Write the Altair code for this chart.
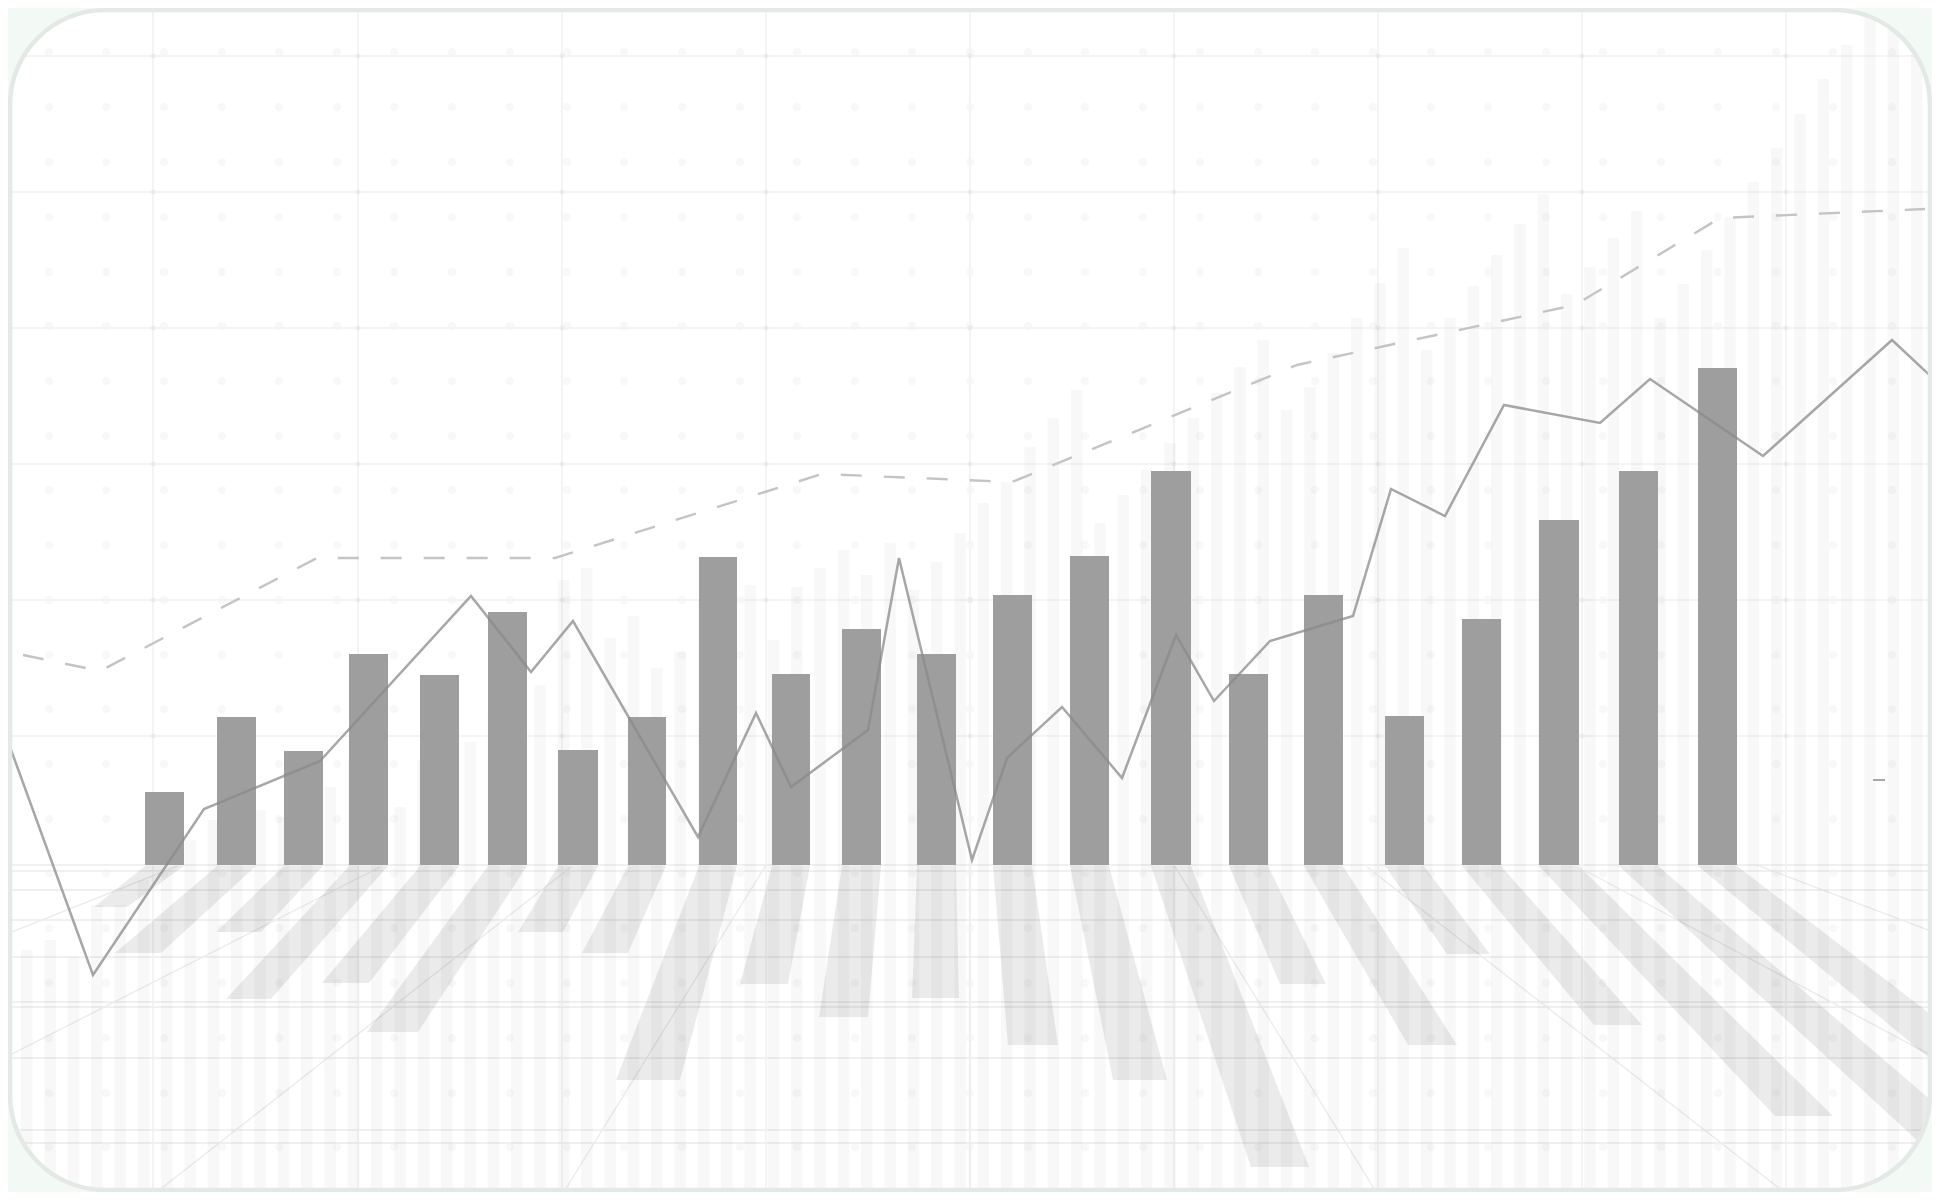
import altair as alt
import pandas as pd

# Bars
bar_left = [145, 217, 284, 349, 420, 488, 558, 628, 699, 772, 842, 917, 993, 1070, 1151, 1229, 1304, 1385, 1462, 1539, 1619, 1698]
bar_right = [184, 256, 323, 388, 459, 527, 598, 666, 737, 810, 881, 956, 1032, 1109, 1191, 1268, 1343, 1424, 1501, 1579, 1658, 1737]
bar_top = [792, 717, 751, 654, 675, 612, 750, 717, 557, 674, 629, 654, 595, 556, 471, 674, 595, 716, 619, 520, 471, 368]
BASE = 865

# Reflections beneath the bars
shadow_left = [94, 115, 216, 226, 322, 367, 518, 582, 616, 740, 819, 912, 1008, 1113, 1251, 1280, 1408, 1447, 1594, 1775, 1946, 2160]
shadow_right = [127, 161, 261, 271, 369, 418, 563, 628, 680, 788, 868, 959, 1058, 1167, 1309, 1326, 1457, 1490, 1642, 1833, 2009, 2239]
shadow_end = [907, 953, 932, 999, 983, 1032, 932, 953, 1080, 984, 1017, 998, 1045, 1080, 1167, 984, 1045, 954, 1025, 1116, 1167, 1250]

# Pale background bars
pale_x = [26.8, 50.1, 73.5, 96.8, 120.1, 143.5, 166.8, 190.1, 213.5, 236.8, 260.1, 283.5, 306.8, 330.1,
          353.5, 376.8, 400.1, 423.5, 446.8, 470.1, 493.5, 516.8, 540.1, 563.5, 586.8, 610.1, 633.5, 656.8,
          680.1, 703.5, 726.8, 750.1, 773.5, 796.8, 820.1, 843.5, 866.8, 890.1, 913.5, 936.8, 960.1, 983.3,
          1006.7, 1030, 1053.3, 1076.7, 1100, 1123.3, 1146.7, 1170, 1193.3, 1216.7, 1240, 1263.3, 1286.7,
          1310, 1333.3, 1356.7, 1380, 1403.3, 1426.7, 1450, 1473.3, 1496.7, 1520, 1543.3, 1566.7, 1590,
          1613.3, 1636.7, 1660, 1683.3, 1706.7, 1730, 1753.3, 1776.7, 1800, 1823.3, 1846.7, 1870, 1893.3, 1916.7]
pale_top = [950, 940, 957, 905, 905, 880, 870, 840, 820, 800, 810, 817, 790, 787,
            760, 780, 807, 760, 742, 742, 710, 700, 685, 580, 568, 638, 616, 668,
            652, 600, 620, 585, 640, 587, 568, 550, 575, 543, 590, 562, 533, 503,
            482, 447, 418, 390, 523, 495, 470, 443, 418, 393, 367, 340, 410,
            387, 353, 318, 283, 248, 350, 318, 286, 255, 224, 194, 294, 267,
            238, 211, 318, 284, 250, 217, 182, 148, 114, 79, 45, 12, 23, 55]
PALE_BOTTOM = 1196

# Solid line
line_x = [6, 93, 204, 320, 471, 531, 573, 698, 756, 791, 868, 899, 972, 1007, 1062, 1122, 1176, 1214, 1270, 1353, 1391, 1445, 1504, 1600, 1650, 1763, 1892, 1938]
line_y = [736, 975, 809, 761, 596, 672, 621, 837, 713, 787, 730, 558, 860, 758, 707, 778, 635, 701, 641, 616, 489, 516, 405, 423, 379, 456, 340, 383]

# Dashed line
dash_x = [23, 100, 317, 555, 822, 1012, 1297, 1575, 1720, 1925]
dash_y = [655, 671, 558, 558, 474, 482, 365, 305, 218, 209]
stub_x = [1873, 1885]
stub_y = [780, 780]

# Grid
grid_x = [153, 358, 562, 766, 970, 1174, 1378, 1582, 1786]
grid_y = [56, 192, 328, 464, 600, 736]
floor_y = [865, 871, 890, 920, 957, 1002, 1007, 1058, 1130, 1143]
dot_x = [49, 106, 164, 222, 279, 337, 394, 452, 510, 567, 624, 682, 740, 797, 855, 912, 970, 1028, 1085,
         1143, 1200, 1258, 1315, 1373, 1431, 1488, 1546, 1603, 1661, 1718, 1776, 1833, 1892]
dot_y = [52, 107, 162, 217, 272, 326, 381, 436, 490, 545, 600, 655, 709, 764, 819, 873, 928, 983, 1038, 1093, 1147]

# Perspective lines on the floor: start x, start y, end x, end y
persp_x1 = [4, 4, 153, 562, 970, 1378, 1788, 1936, 1936]
persp_y1 = [935, 1058, 1195, 1195, 1195, 1195, 1195, 1058, 933]
persp_x2 = [180, 380, 571, 766, 970, 1174, 1367, 1584, 1757]
persp_y2 = [865, 867, 867, 865, 865, 865, 867, 870, 865]

xs = alt.Scale(domain=[8, 1932], zero=False, nice=False)
ys = alt.Scale(domain=[1192, 8], zero=False, nice=False)


def X(f="x", **k):
    return alt.X(f"{f}:Q", scale=xs, axis=None, **k)


def Y(f="y", **k):
    return alt.Y(f"{f}:Q", scale=ys, axis=None, **k)


dots = pd.DataFrame([{"x": a, "y": b} for a in dot_x for b in dot_y])
cross = pd.DataFrame([{"x": a, "y": b} for a in grid_x for b in grid_y])
bars = pd.DataFrame({"x": bar_left, "x2": bar_right, "y": bar_top, "y2": [BASE] * len(bar_top)})
pale = pd.DataFrame({"x": [v - 5.8 for v in pale_x], "x2": [v + 5.8 for v in pale_x], "y": pale_top,
                     "y2": [PALE_BOTTOM] * len(pale_top)})
rows = []
for i in range(len(bar_left)):
    rows.append({"id": i, "y": BASE + 1, "x": bar_left[i], "x2": bar_right[i]})
    rows.append({"id": i, "y": shadow_end[i], "x": shadow_left[i], "x2": shadow_right[i]})
shadows = pd.DataFrame(rows)
persp = pd.DataFrame({"x": persp_x1, "y": persp_y1, "x2": persp_x2, "y2": persp_y2})

GRID = "#f4f4f4"
layers = [
    alt.Chart(dots).mark_point(filled=True, shape="circle", size=75, color="#000000", opacity=0.028, strokeWidth=0)
    .encode(x=X(), y=Y()),
    alt.Chart(pd.DataFrame({"x": grid_x})).mark_rule(color=GRID, strokeWidth=2).encode(x=X()),
    alt.Chart(pd.DataFrame({"y": grid_y})).mark_rule(color=GRID, strokeWidth=2).encode(y=Y()),
    alt.Chart(cross).mark_point(filled=True, shape="circle", size=30, color="#000000", opacity=0.04, strokeWidth=0)
    .encode(x=X(), y=Y()),
    alt.Chart(pd.DataFrame({"y": floor_y})).mark_rule(color="#f0f0f0", strokeWidth=2).encode(y=Y()),
    alt.Chart(persp).mark_rule(color="#ececec", strokeWidth=1.4)
    .encode(x=X(), y=Y(), x2="x2:Q", y2="y2:Q"),
    alt.Chart(pale).mark_rect(color="#000000", opacity=0.027)
    .encode(x=X(), x2="x2:Q", y=Y(), y2="y2:Q"),
    alt.Chart(shadows).mark_area(orient="horizontal", color="#000000", opacity=0.08)
    .encode(y=Y(), x=X(stack=None), x2="x2:Q", detail="id:N"),
    alt.Chart(bars).mark_rect(color="#9e9e9e")
    .encode(x=X(), x2="x2:Q", y=Y(), y2="y2:Q"),
    alt.Chart(pd.DataFrame({"x": dash_x, "y": dash_y, "o": range(len(dash_x))}))
    .mark_line(color="#c4c4c4", strokeWidth=2.4, strokeDash=[21, 22])
    .encode(x=X(), y=Y(), order="o:Q"),
    alt.Chart(pd.DataFrame({"x": stub_x, "y": stub_y, "o": range(len(stub_x))}))
    .mark_line(color="#a8a8a8", strokeWidth=2)
    .encode(x=X(), y=Y(), order="o:Q"),
    alt.Chart(pd.DataFrame({"x": line_x, "y": line_y, "o": range(len(line_x))}))
    .mark_line(color="#8a8a8a", opacity=0.75, strokeWidth=2.5)
    .encode(x=X(), y=Y(), order="o:Q"),
    # Page colour outside the rounded panel, and the panel's border
    alt.Chart(pd.DataFrame({"x": [-50], "x2": [1990], "y": [-50], "y2": [1250]}))
    .mark_rect(fillOpacity=0, stroke="#f3faf6", strokeWidth=120, cornerRadius=155)
    .encode(x=X(), x2="x2:Q", y=Y(), y2="y2:Q"),
    alt.Chart(pd.DataFrame({"x": [10], "x2": [1930], "y": [10], "y2": [1190]}))
    .mark_rect(fillOpacity=0, stroke="#e3eae6", strokeWidth=4.5, cornerRadius=95)
    .encode(x=X(), x2="x2:Q", y=Y(), y2="y2:Q"),
]

chart = (
    alt.layer(*layers)
    .properties(width=1924, height=1184, padding=0, autosize=alt.AutoSizeParams(type="none"), background="#ffffff")
    .configure_view(stroke=None)
)
chart.save("out.html", embed_options={"renderer": "svg", "actions": False})
